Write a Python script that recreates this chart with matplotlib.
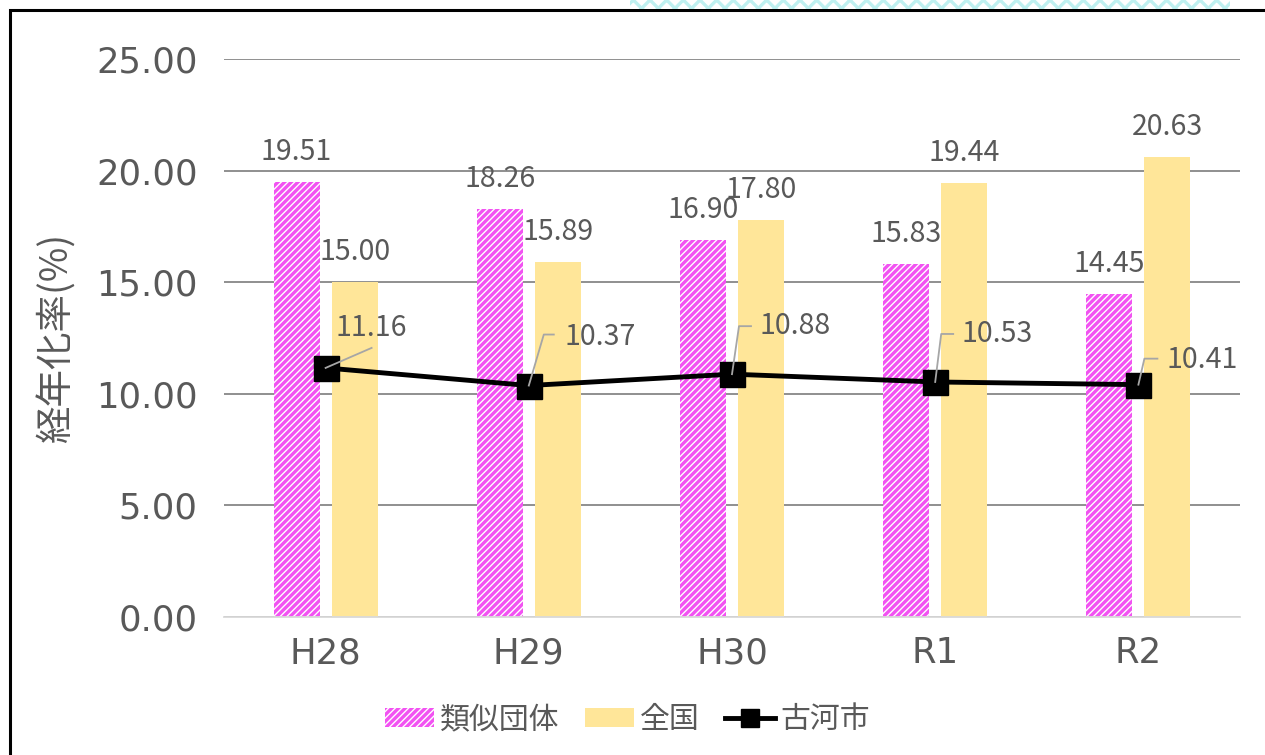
#!/usr/bin/env python3
"""経年化率 - 類似団体 / 全国 / 古河市"""
import matplotlib
matplotlib.use('Agg')
import matplotlib.pyplot as plt
from matplotlib.patches import Rectangle, Patch
from matplotlib.lines import Line2D
import numpy as np

plt.rcParams['font.family'] = ['Noto Sans CJK JP', 'DejaVu Sans']
plt.rcParams['hatch.linewidth'] = 2.4

years = ['H28', 'H29', 'H30', 'R1', 'R2']
ruiji = [19.51, 18.26, 16.90, 15.83, 14.45]   # 類似団体
zenkoku = [15.00, 15.89, 17.80, 19.44, 20.63]  # 全国
koga = [11.16, 10.37, 10.88, 10.53, 10.41]     # 古河市

# 古河市ラベルの位置 (px, マーカーからのオフセット) と引出線の折れ点
koga_text_off = [(46, 40), (71, 49), (63, 48), (62, 48), (64, 25)]
koga_leader = [[(0, 0), (46, 20)],
               [(0, 0), (15, 51), (25, 51)],
               [(0, 0), (7, 48), (19, 48)],
               [(0, 0), (6, 48), (18, 48)],
               [(0, 0), (6, 26), (19, 26)]]

TXT = '#595959'
PINK = '#F252F2'
YELLOW = '#FFE699'
NUMFONT = ['DejaVu Sans']

fig = plt.figure(figsize=(12.65, 7.55), dpi=100)
ax = fig.add_axes([224 / 1265, 1 - 617 / 755, 1016 / 1265, 558 / 755])

x = np.arange(len(years))
w = 0.226
off = 0.143
ax.bar(x - off, ruiji, width=w, color='white', edgecolor=PINK, hatch='/////', linewidth=0)
ax.bar(x + off, zenkoku, width=w, color=YELLOW, linewidth=0)
ax.plot(x, koga, color='black', linewidth=3.5, marker='s', markersize=18, zorder=5)

ax.set_xlim(-0.5, len(years) - 0.5)
ax.set_ylim(0, 25)
ax.set_yticks(np.arange(0, 25.01, 5))
ax.set_yticklabels([f'{v:.2f}' for v in np.arange(0, 25.01, 5)], family=NUMFONT)
ax.set_xticks(x)
ax.set_xticklabels(years, family=NUMFONT)
ax.tick_params(axis='both', length=0, labelsize=25.5, colors=TXT)
ax.tick_params(axis='y', pad=19)
ax.tick_params(axis='x', pad=14)
ax.yaxis.grid(True, color='#8F8F8F', linewidth=1.4)
ax.set_axisbelow(True)
for s in ['top', 'right', 'left']:
    ax.spines[s].set_visible(False)
ax.spines['bottom'].set_color('#D9D9D9')
ax.spines['bottom'].set_linewidth(1.3)
ax.set_ylabel('経年化率(%)', fontsize=27, color=TXT, labelpad=14)

# 棒のラベル
for i in range(len(years)):
    ax.annotate(f'{ruiji[i]:.2f}', (x[i] - off, ruiji[i]), xytext=(0, 30),
                textcoords='offset pixels', ha='center', va='center', fontsize=20.5, color=TXT)
    ax.annotate(f'{zenkoku[i]:.2f}', (x[i] + off, zenkoku[i]), xytext=(0, 30),
                textcoords='offset pixels', ha='center', va='center', fontsize=20.5, color=TXT)

# 古河市ラベル + 引出線
for i in range(len(years)):
    px, py = ax.transData.transform((x[i], koga[i]))
    pts = [ax.transData.inverted().transform((px + dx, py + dy)) for dx, dy in koga_leader[i]]
    pts = np.array(pts)
    ax.plot(pts[:, 0], pts[:, 1], color='#A6A6A6', linewidth=1.3, zorder=6)
    ax.annotate(f'{koga[i]:.2f}', (x[i], koga[i]), xytext=koga_text_off[i],
                textcoords='offset pixels', ha='center', va='center', fontsize=20.5, color=TXT,
                zorder=7)

handles = [Patch(facecolor='white', edgecolor=PINK, hatch='/////', linewidth=0),
           Patch(facecolor=YELLOW, linewidth=0),
           Line2D([], [], color='black', linewidth=3.5, marker='s', markersize=13)]
leg = fig.legend(handles, ['類似団体', '全国', '古河市'], loc='center', ncol=3,
                 bbox_to_anchor=(0.5 - 5 / 1265, 1 - 720 / 755), frameon=False, fontsize=21.5,
                 handlelength=1.65, handleheight=0.6, handletextpad=0.2, columnspacing=0.85)
for t in leg.get_texts():
    t.set_color(TXT)

# 外枠
fig.patches.append(Rectangle((10 / 1265, -0.1), 1.2, 1.1 - 10 / 755, transform=fig.transFigure,
                             fill=False, edgecolor='black', linewidth=2.2))
fig.patches.append(Rectangle((630 / 1265, 1 - 9 / 755), 600 / 1265, 9 / 755, transform=fig.transFigure,
                             facecolor='white', edgecolor='#BFF0F0', hatch='xx', linewidth=0))

fig.savefig('out.png', dpi=100)
